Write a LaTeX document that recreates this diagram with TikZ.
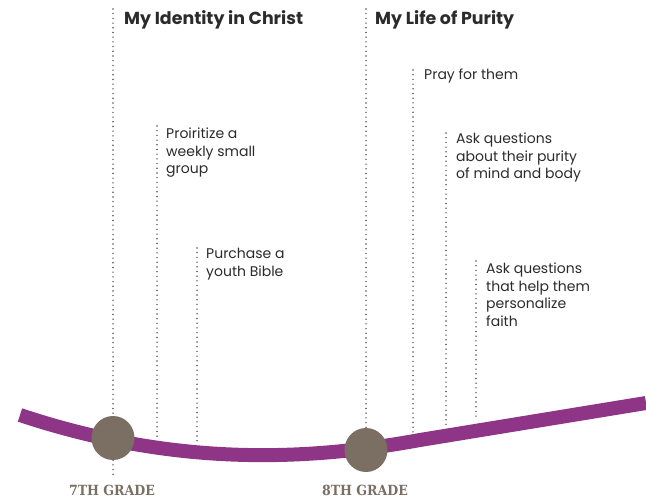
\documentclass[tikz,border=0pt]{standalone}
\usepackage{fontspec}
\setmainfont{Poppins}
\newfontfamily\gradefont{DejaVu Serif Condensed}
\definecolor{vine}{HTML}{8E3588}
\definecolor{stone}{HTML}{7B6E63}
\definecolor{ink}{HTML}{2B2B2B}
\definecolor{dotc}{HTML}{505050}
\tikzset{
  dotline/.style={draw=dotc, line width=1.6pt, line cap=round, dash pattern=on 0pt off 4.7pt},
  heading/.style={anchor=base west, inner sep=0pt, text=ink, font=\fontsize{17.4}{20}\selectfont\bfseries},
  item/.style={anchor=north west, inner sep=0pt, text=ink, align=left, font=\fontsize{14}{17.5}\selectfont},
  milestone/.style={ellipse, fill=stone, minimum width=43pt, minimum height=44pt, inner sep=0pt},
  grade/.style={anchor=base, inner sep=0pt, text=stone, font=\gradefont\fontsize{14}{16}\selectfont\bfseries}
}
\usetikzlibrary{shapes.geometric}
\begin{document}
\begin{tikzpicture}[x=1pt,y=-1pt]
\useasboundingbox (0,0) rectangle (646,497);
% dotted guide coordinates
\coordinate (a1) at (113,9);   \coordinate (a2) at (113,475);
\coordinate (b1) at (157,126); \coordinate (b2) at (157,437);
\coordinate (c1) at (197,248); \coordinate (c2) at (197,442);
\coordinate (d1) at (366,9);   \coordinate (d2) at (366,440);
\coordinate (e1) at (413,70);  \coordinate (e2) at (413,432);
\coordinate (f1) at (446,133); \coordinate (f2) at (446,428);
\coordinate (g1) at (476,261); \coordinate (g2) at (476,418);
\foreach \s in {a,b,c,d,e,f,g} \draw[dotline] (\s1) -- (\s2);
% curve
\coordinate (p0) at (20,415);
\coordinate (p3) at (420,440);
\coordinate (p4) at (646,403);
\draw[vine, line width=14pt] (p0) .. controls (170,465) and (300,462) .. (p3) -- (p4);
% milestones
\node[milestone] (m7) at (113,438) {};
\node[milestone] (m8) at (366,450) {};
\node[grade] (g7) at (112,495) {7TH GRADE};
\node[grade] (g8) at (365,495) {8TH GRADE};
% headings
\node[heading] (h1) at (124,25) {My Identity in Christ};
\node[heading] (h2) at (375,25) {My Life of Purity};
% items
\node[item] (t1) at (166,128) {Proiritize a\\weekly small\\group};
\node[item] (t2) at (206,248) {Purchase a\\youth Bible};
\node[item] (t3) at (424,69) {Pray for them};
\node[item] (t4) at (456,133) {Ask questions\\about their purity\\of mind and body};
\node[item] (t5) at (486,263) {Ask questions\\that help them\\personalize\\faith};
\end{tikzpicture}
\end{document}
